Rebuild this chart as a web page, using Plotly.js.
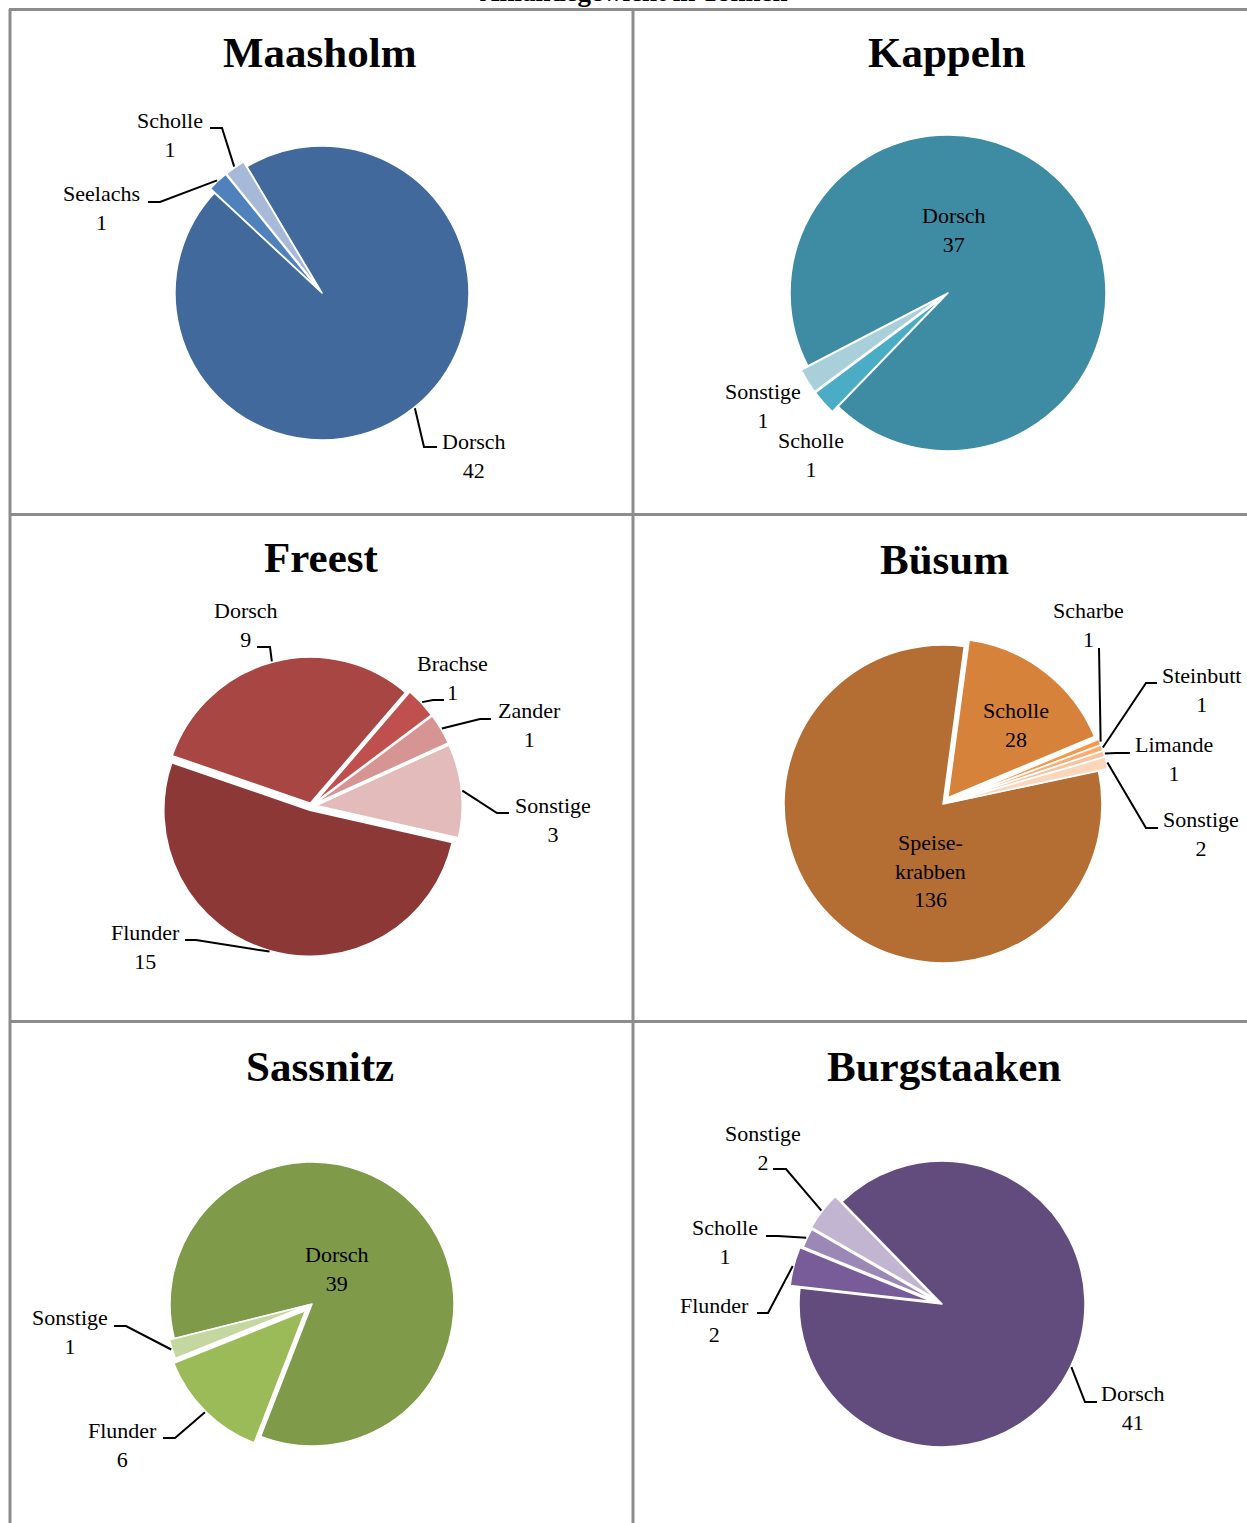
<!DOCTYPE html>
<html><head><meta charset="utf-8">
<script src="https://cdn.plot.ly/plotly-3.0.1.min.js"></script>
<style>html,body{margin:0;padding:0;background:#fff}#chart{width:1247px;height:1523px}</style>
</head><body><div id="chart"></div>
<script>
// ---- data ----
const chartTitle = 'Anlandegewicht in Tonnen';
const harbours = ['Maasholm', 'Kappeln', 'Freest', 'Büsum', 'Sassnitz', 'Burgstaaken'];

const maasholmSpecies = ['Dorsch', 'Seelachs', 'Scholle'];
const maasholmTonnes = [42, 1, 1];

const kappelnSpecies = ['Dorsch', 'Scholle', 'Sonstige'];
const kappelnTonnes = [37, 1, 1];

const freestSpecies = ['Dorsch', 'Brachse', 'Zander', 'Sonstige', 'Flunder'];
const freestTonnes = [9, 1, 1, 3, 15];

const buesumSpecies = ['Speise-<br>krabben', 'Scholle', 'Scharbe', 'Steinbutt', 'Limande', 'Sonstige'];
const buesumTonnes = [136, 28, 1, 1, 1, 2];

const sassnitzSpecies = ['Dorsch', 'Flunder', 'Sonstige'];
const sassnitzTonnes = [39, 6, 1];

const burgstaakenSpecies = ['Dorsch', 'Flunder', 'Scholle', 'Sonstige'];
const burgstaakenTonnes = [41, 2, 1, 2];

// ---- layout / style ----
const W = 1247, H = 1523;
const X = p => p / W;
const Y = p => 1 - p / H;
const SERIF = '"Liberation Serif", "Times New Roman", serif';

const pies = [
  { name: harbours[0], labels: maasholmSpecies, values: maasholmTonnes,
    cx: 322, cy: 293, r: 147, rot: -30.7, pull: [0, 0.04, 0.04],
    colors: ['#41699b', '#4f81bd', '#a7b9d8'], title: [320, 53],
    text: [[474, 456], [101, 208], [170, 135]],
    lead: [[[424, 447], [437, 447]], [[160, 202], [148, 202]], [[222, 128], [210, 128]]] },
  { name: harbours[1], labels: kappelnSpecies, values: kappelnTonnes,
    cx: 948, cy: 293, r: 158, rot: -117.5, pull: [0, 0.05, 0.05],
    colors: ['#3d8ca3', '#4bacc6', '#a9cfdb'], title: [947, 53],
    text: [[954, 230], [811, 455], [763, 406]],
    lead: [null, null, null] },
  { name: harbours[2], labels: freestSpecies, values: freestTonnes,
    cx: 311, cy: 806, r: 146, rot: -71, pull: [0.02, 0.035, 0.035, 0.035, 0.03],
    colors: ['#a84644', '#c0504d', '#d69593', '#e2bbba', '#8c3836'], title: [321, 557],
    text: [[246, 625], [452, 678], [529, 725], [553, 820], [145, 947]],
    lead: [[[270, 647], [257, 647]], [[433, 700], [444, 700]], [[480, 719], [491, 719]],
           [[497, 813], [509, 813]], [[196, 940], [185, 940]]] },
  { name: harbours[3], labels: buesumSpecies, values: buesumTonnes,
    cx: 943, cy: 804, r: 159, rot: 78, pull: [0, 0.05, 0.06, 0.06, 0.06, 0.06],
    colors: ['#b46e33', '#d6823b', '#f79646', '#f9ab70', '#fac19b', '#fcd6ba'], title: [944, 559],
    text: [[931, 871], [1016, 725], [1088, 625], [1201, 690], [1174, 759], [1201, 834]],
    lead: [null, null, [[1099, 648]], [[1146, 683], [1157, 683]], [[1116, 753], [1130, 753]],
           [[1146, 828], [1158, 828]]] },
  { name: harbours[4], labels: sassnitzSpecies, values: sassnitzTonnes,
    cx: 312, cy: 1304, r: 142, rot: -104, pull: [0, 0.065, 0.035],
    colors: ['#7f9a48', '#9bbb59', '#c4d7a1'], title: [320, 1066],
    text: [[337, 1269], [122, 1445], [70, 1332]],
    lead: [null, [[175, 1438], [163, 1438]], [[126, 1326], [114, 1326]]] },
  { name: harbours[5], labels: burgstaakenSpecies, values: burgstaakenTonnes,
    cx: 942, cy: 1304, r: 143, rot: -44.4, pull: [0, 0.07, 0.05, 0.06],
    colors: ['#624c7e', '#775c99', '#9c88b6', '#c1b5d2'], title: [944, 1066],
    text: [[1133, 1408], [715, 1320], [725, 1242], [763, 1148]],
    lead: [[[1085, 1402], [1097, 1402]], [[768, 1313], [757, 1313]], [[778, 1236], [766, 1236]],
           [[786, 1169], [773, 1169]]] }
];

const traces = [];
const annotations = [];
const shapes = [];

pies.forEach(p => {
  const maxPull = Math.max(...p.pull);
  const side = 2 * p.r * (1 + maxPull);
  traces.push({
    type: 'pie', labels: p.labels, values: p.values, sort: false,
    direction: 'clockwise', rotation: p.rot, pull: p.pull,
    textinfo: 'none', hoverinfo: 'label+value', showlegend: false,
    marker: { colors: p.colors, line: { color: '#ffffff', width: 1.5 } },
    domain: { x: [X(p.cx - side / 2), X(p.cx + side / 2)], y: [Y(p.cy + side / 2), Y(p.cy - side / 2)] }
  });
  annotations.push({
    xref: 'paper', yref: 'paper', x: X(p.title[0]), y: Y(p.title[1]),
    xanchor: 'center', yanchor: 'middle', showarrow: false,
    text: '<b>' + p.name + '</b>', font: { family: SERIF, size: 43, color: '#000' }
  });
  const tot = p.values.reduce((a, b) => a + b, 0);
  let acc = p.rot;
  p.values.forEach((v, i) => {
    const mid = (acc + v / tot * 180) * Math.PI / 180;
    acc += v / tot * 360;
    const [tx, ty] = p.text[i];
    annotations.push({
      xref: 'paper', yref: 'paper', x: X(tx), y: Y(ty),
      xanchor: 'center', yanchor: 'middle', showarrow: false, align: 'center',
      text: p.labels[i] + '<br>' + v, font: { family: SERIF, size: 22, color: '#000' }
    });
    if (p.lead[i]) {
      const ra = p.r * (1 + p.pull[i]) + 1;
      const ax = p.cx + ra * Math.sin(mid), ay = p.cy - ra * Math.cos(mid);
      let d = 'M ' + X(ax) + ' ' + Y(ay);
      p.lead[i].forEach(pt => { d += ' L ' + X(pt[0]) + ' ' + Y(pt[1]); });
      shapes.push({ type: 'path', xref: 'paper', yref: 'paper', path: d,
        line: { color: '#000', width: 2 } });
    }
  });
});

// grid frame
const grey = '#8c8c8c';
const frame = [
  [9, 9.5, 1247, 9.5], [10, 9, 10, 1523], [633, 9, 633, 1523],
  [9, 514.5, 1247, 514.5], [9, 1021.5, 1247, 1021.5]
];
frame.forEach(f => shapes.push({ type: 'line', xref: 'paper', yref: 'paper',
  x0: X(f[0]), y0: Y(f[1]), x1: X(f[2]), y1: Y(f[3]), line: { color: grey, width: 3 } }));

annotations.push({
  xref: 'paper', yref: 'paper', x: X(634), y: Y(9), xanchor: 'center', yanchor: 'bottom',
  showarrow: false, text: '<b>' + chartTitle + '</b>', font: { family: SERIF, size: 27, color: '#000' }
});

Plotly.newPlot('chart', traces, {
  width: W, height: H, margin: { l: 0, r: 0, t: 0, b: 0 },
  paper_bgcolor: '#fff', plot_bgcolor: '#fff',
  annotations: annotations, shapes: shapes
}, { displayModeBar: false, staticPlot: true });
</script>
</body></html>
